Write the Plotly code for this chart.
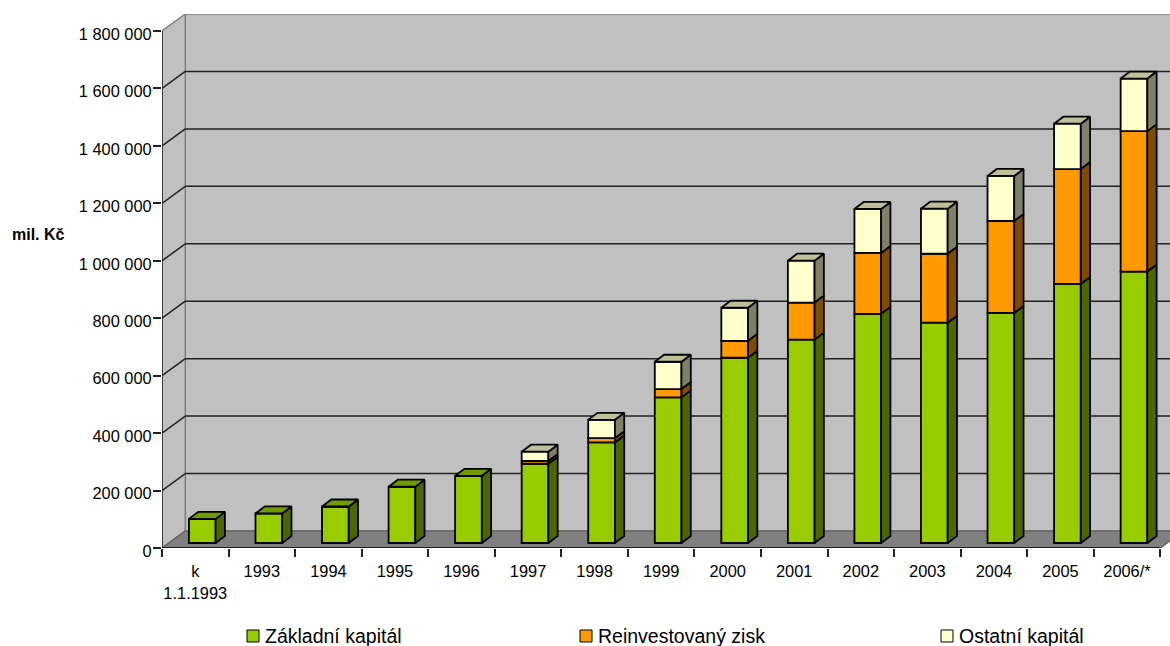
import plotly.graph_objects as go

categories = ['k<br>1.1.1993', '1993', '1994', '1995', '1996', '1997', '1998', '1999',
              '2000', '2001', '2002', '2003', '2004', '2005', '2006/*']
zakladni = [84000, 103000, 127000, 196000, 234000, 276000, 350000, 507000,
            645000, 708000, 798000, 767000, 801000, 902000, 945000]
reinvest = [0, 0, 0, 0, 0, 10000, 15000, 29000,
            59000, 129000, 212000, 240000, 320000, 400000, 489000]
ostatni = [0, 0, 0, 0, 0, 32000, 64000, 95000,
           115000, 146000, 153000, 157000, 157000, 158000, 183000]
y_ticks = [0, 200000, 400000, 600000, 800000, 1000000, 1200000, 1400000, 1600000, 1800000]

# pseudo 3D depth, all in axis units (one category wide, y in mil. Kc)
px_x = 66.55
px_y = 517 / 1800000
wall_dx = 23.3 / px_x
wall_dy = 17 / px_y
bar_off_x = 7 / px_x
bar_off_y = 5 / px_y
bar_w = 26.7 / px_x
side_dx = 9.3 / px_x
side_dy = 7 / px_y
n = len(categories)
x_max = (1170 - 162) / px_x
y_max = (548 - 14) / px_y

series = [
    ('Základní kapitál', zakladni, '#99CC00', '#4D6600', '#739900'),
    ('Reinvestovaný zisk', reinvest, '#FF9900', '#804D00', '#BF7300'),
    ('Ostatní kapitál', ostatni, '#FFFFCC', '#808066', '#BFBF99'),
]

fig = go.Figure()
bottoms = [bar_off_y] * n
side_traces = []
top_traces = []
totals = [a + b + c for a, b, c in zip(zakladni, reinvest, ostatni)]

for name, values, color, side_color, top_color in series:
    x_c = [i + 0.5 + bar_off_x for i in range(n)]
    fig.add_trace(go.Bar(x=x_c, y=values, base=bottoms, width=bar_w, name=name,
                         marker=dict(color=color, line=dict(color='#000000', width=1.8)),
                         showlegend=False, hoverinfo='skip'))
    side_x, side_y, top_x, top_y = [], [], [], []
    for i in range(n):
        if values[i] == 0:
            continue
        right = x_c[i] + bar_w / 2
        left = x_c[i] - bar_w / 2
        low = bottoms[i]
        high = low + values[i]
        side_x += [right, right + side_dx, right + side_dx, right, right, None]
        side_y += [low, low + side_dy, high + side_dy, high, low, None]
        if abs(high - bar_off_y - totals[i]) < 1:
            top_x += [left, left + side_dx, right + side_dx, right, left, None]
            top_y += [high, high + side_dy, high + side_dy, high, high, None]
    side_traces.append(go.Scatter(x=side_x, y=side_y, mode='lines', fill='toself', fillcolor=side_color,
                                  line=dict(color='#000000', width=1.8), showlegend=False, hoverinfo='skip'))
    top_traces.append(go.Scatter(x=top_x, y=top_y, mode='lines', fill='toself', fillcolor=top_color,
                                 line=dict(color='#000000', width=1.8), showlegend=False, hoverinfo='skip'))
    bottoms = [b + v for b, v in zip(bottoms, values)]

for t in side_traces + top_traces:
    fig.add_trace(t)

shapes = []
top = y_ticks[-1]
# back wall and left wall
shapes.append(dict(type='rect', x0=wall_dx, x1=x_max + 1, y0=wall_dy, y1=top + wall_dy, layer='below',
                   fillcolor='#C0C0C0', line=dict(color='#808080', width=1.5)))
shapes.append(dict(type='path', layer='below', fillcolor='#C0C0C0', line=dict(color='#808080', width=1.5),
                   path=f'M 0 0 L {wall_dx} {wall_dy} L {wall_dx} {top + wall_dy} L 0 {top} Z'))
# floor
shapes.append(dict(type='path', layer='below', fillcolor='#808080', line=dict(color='#666666', width=1.5),
                   path=f'M 0 0 L {wall_dx} {wall_dy} L {n + wall_dx} {wall_dy} L {n} 0 Z'))
# gridlines on both walls
for v in y_ticks[1:-1]:
    shapes.append(dict(type='line', layer='below', x0=wall_dx, x1=x_max + 1, y0=v + wall_dy, y1=v + wall_dy,
                       line=dict(color='#222222', width=1.5)))
    shapes.append(dict(type='line', layer='below', x0=0, x1=wall_dx, y0=v, y1=v + wall_dy,
                       line=dict(color='#222222', width=1.5)))
# front axis lines
shapes.append(dict(type='line', layer='below', x0=0, x1=0, y0=0, y1=top, line=dict(color='#222222', width=1.5)))
shapes.append(dict(type='line', layer='below', x0=0, x1=n, y0=0, y1=0, line=dict(color='#000000', width=1.5)))

# legend laid out by hand, the three entries are not evenly spaced
legend_items = [('Základní kapitál', 247, '#99CC00'), ('Reinvestovaný zisk', 580, '#FF9900'),
                ('Ostatní kapitál', 941, '#FFFFCC')]
annotations = [dict(text='<b>mil. Kč</b>', xref='paper', yref='paper', x=(38 - 162) / 1008, y=(548 - 234.5) / 534,
                    xanchor='center', yanchor='middle', showarrow=False, font=dict(size=16, color='#000000'))]
for name, left, color in legend_items:
    shapes.append(dict(type='rect', xref='paper', yref='paper', x0=(left - 162) / 1008, x1=(left + 12 - 162) / 1008,
                       y0=(548 - 642) / 534, y1=(548 - 630) / 534, fillcolor=color,
                       line=dict(color='#000000', width=1)))
    annotations.append(dict(text=name, xref='paper', yref='paper', x=(left + 18 - 162) / 1008, y=(548 - 635.5) / 534,
                            xanchor='left', xshift=-2, yanchor='middle', showarrow=False,
                            font=dict(size=19.5, color='#000000')))

fig.update_layout(
    width=1170, height=646,
    margin=dict(l=162, r=0, t=14, b=98),
    paper_bgcolor='#FFFFFF', plot_bgcolor='#FFFFFF',
    font=dict(family='Liberation Sans, Arial, sans-serif', size=16.4, color='#000000'),
    barmode='overlay',
    shapes=shapes,
    annotations=annotations,
    xaxis=dict(range=[0, x_max], showgrid=False, zeroline=False, showline=False,
               tickmode='array', tickvals=[i + 0.5 for i in range(n)], ticktext=categories,
               ticks='', ticklabelstandoff=12,
               minor=dict(tickmode='array', tickvals=list(range(n + 1)), ticks='outside',
                          ticklen=8, tickwidth=1.5, tickcolor='#222222', showgrid=False)),
    yaxis=dict(range=[0, y_max], showgrid=False, zeroline=False, showline=False,
               tickmode='array', tickvals=y_ticks,
               ticktext=[f'{v:,}'.replace(',', ' ') for v in y_ticks],
               ticks='outside', ticklen=8, tickwidth=1.5, tickcolor='#222222',
               ticklabelstandoff=-2, ticklabelshift=3),
)

# page margin off so the figure fills the window
fig.write_html("out.html", config=dict(displayModeBar=False),
               post_script="document.body.style.margin='0';document.body.style.overflow='hidden';")
